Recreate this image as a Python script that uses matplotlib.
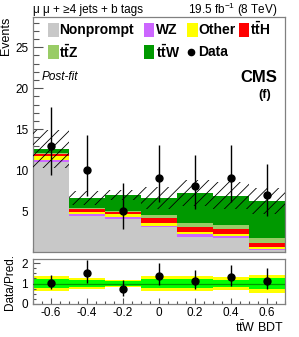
#!/usr/bin/env python3

"""
Post-fit ttW BDT distribution in the mu mu + >=4 jets + b tags category,
stacked backgrounds with data and a Data/Pred. ratio panel.
"""

import numpy as np
import matplotlib
matplotlib.use('Agg')
from matplotlib import pyplot as plt
from matplotlib.patches import Rectangle

plt.rcParams['font.family'] = ['Liberation Sans', 'DejaVu Sans']
plt.rcParams['mathtext.fontset'] = 'custom'
plt.rcParams['mathtext.rm'] = 'Liberation Sans'
plt.rcParams['mathtext.it'] = 'Liberation Sans:italic'
plt.rcParams['mathtext.bf'] = 'Liberation Sans:bold'
plt.rcParams['axes.unicode_minus'] = False
plt.rcParams['hatch.linewidth'] = 0.6

# binning of the BDT output
bin_edges = [-0.7, -0.5, -0.3, -0.1, 0.1, 0.3, 0.5, 0.7]

# post-fit yields per bin, stacked bottom -> top
nonprompt = [11.0, 4.4, 4.05, 3.0, 1.85, 1.75, 0.25]
wz = [0.2, 0.2, 0.25, 0.2, 0.3, 0.2, 0.15]
other = [0.5, 0.3, 0.3, 0.3, 0.35, 0.3, 0.25]
tth = [0.3, 0.3, 0.3, 0.6, 0.6, 0.6, 0.5]
ttz = [0.1, 0.15, 0.1, 0.4, 0.4, 0.5, 0.5]
ttw = [0.5, 1.25, 2.0, 2.1, 3.7, 3.55, 4.6]

# upper edge of the hatched total uncertainty
unc_top = [14.9, 7.5, 7.6, 7.9, 8.8, 8.5, 7.8]

# observed data with asymmetric errors
data = [13, 10, 5, 9, 8, 9, 7]
data_lo = [3.6, 3.1, 2.2, 2.9, 2.8, 2.9, 2.6]
data_hi = [4.7, 4.3, 3.4, 4.1, 3.9, 4.1, 3.8]

# ratio panel
ratio = [1.03, 1.52, 0.71, 1.37, 1.11, 1.31, 1.13]
band_1s = [0.21, 0.16, 0.12, 0.23, 0.21, 0.19, 0.27]
band_2s = [0.37, 0.26, 0.19, 0.37, 0.37, 0.31, 0.44]

samples = [
    ('Nonprompt', nonprompt, '#c8c8c8'),
    ('WZ', wz, '#cc66ff'),
    ('Other', other, '#ffff00'),
    (r'$\mathbf{t\bar{t}H}$', tth, '#ff0000'),
    (r'$\mathbf{t\bar{t}Z}$', ttz, '#99cc66'),
    (r'$\mathbf{t\bar{t}W}$', ttw, '#009900'),
]

FRAME = '#808080'


def style_axis(ax):
    for sp in ax.spines.values():
        sp.set_color(FRAME)
        sp.set_linewidth(0.9)
    ax.tick_params(which='both', direction='in', colors='#555555',
                   labelcolor='black', labelsize=8.5, width=0.8)
    ax.tick_params(which='major', length=6)
    ax.tick_params(which='minor', length=3)


def main():
    edges = np.array(bin_edges)
    centers = 0.5*(edges[1:] + edges[:-1])

    fig = plt.figure(figsize=(2.99, 3.37), dpi=100)
    ax = fig.add_axes([33/299, 85/337, 252/299, 235/337])
    rax = fig.add_axes([33/299, 33/337, 252/299, 45/337])

    # Stack
    bottom = np.zeros(len(centers))
    for name, vals, col in samples:
        top = bottom + np.array(vals)
        ax.stairs(top, edges, baseline=bottom, fill=True, color=col,
                  linewidth=0, zorder=2)
        bottom = top
    total = bottom

    # Uncertainty hatch
    up = np.array(unc_top)
    down = total - (up - total)
    ax.stairs(up, edges, baseline=down, fill=True, facecolor='none',
              edgecolor='black', hatch='///', linewidth=0, zorder=3)

    # Data
    ax.errorbar(centers, data, yerr=[data_lo, data_hi], fmt='o', color='black',
                ms=5, elinewidth=1.0, capsize=0, zorder=5)

    ax.set_xlim(-0.7, 0.7)
    ax.set_ylim(0, 28.7)
    ax.set_yticks([5, 10, 15, 20, 25])
    ax.set_yticks(np.arange(1, 29), minor=True)
    ax.set_xticks(np.arange(-0.6, 0.61, 0.2))
    ax.set_xticks(np.arange(-0.7, 0.71, 0.05), minor=True)
    ax.tick_params(axis='x', labelbottom=False)
    style_axis(ax)
    ax.tick_params(axis='y', which='major', length=7)
    ax.tick_params(axis='y', which='minor', length=4)
    ax.set_ylabel('Events', fontsize=9, loc='top', labelpad=2)

    # Legend, drawn by hand in axes coordinates
    sw, sh = 0.042, 0.060
    rows = [0.945, 0.851]
    entries = [
        (0, 0.0595, 0.105),
        (1, 0.440, 0.490),
        (2, 0.611, 0.657),
        (3, 0.817, 0.863),
        (4, 0.0595, 0.105),
        (5, 0.440, 0.488),
    ]
    for idx, sx, tx in entries:
        name, _, col = samples[idx]
        ry = rows[0] if idx < 4 else rows[1]
        ax.add_patch(Rectangle((sx, ry - sh/2), sw, sh, transform=ax.transAxes,
                               facecolor=col, edgecolor='none', zorder=6))
        ax.text(tx, ry, name, transform=ax.transAxes, fontsize=10,
                fontweight='bold', va='center', ha='left', zorder=6)
    ax.plot([0.627], [rows[1]], 'o', color='black', ms=4.5,
            transform=ax.transAxes, zorder=6)
    ax.text(0.655, rows[1], 'Data', transform=ax.transAxes, fontsize=10,
            fontweight='bold', va='center', ha='left', zorder=6)

    ax.text(0.036, 0.743, 'Post-fit', transform=ax.transAxes, fontsize=8.5,
            style='italic', va='center', ha='left')
    ax.text(0.968, 0.743, 'CMS', transform=ax.transAxes, fontsize=12,
            fontweight='bold', va='center', ha='right')
    ax.text(0.921, 0.668, '(f)', transform=ax.transAxes, fontsize=9,
            fontweight='bold', va='center', ha='center')

    fig.text(33/299, 0.970, '\u03bc \u03bc + \u22654 jets + b tags',
             fontsize=8.5, ha='left', va='center')
    fig.text(278/299, 0.970, r'19.5 fb$^{-1}$ (8 TeV)', fontsize=8.5,
             ha='right', va='center')

    # Ratio panel
    lo2 = 1 - np.array(band_2s)
    hi2 = 1 + np.array(band_2s)
    lo1 = 1 - np.array(band_1s)
    hi1 = 1 + np.array(band_1s)
    rax.stairs(hi2, edges, baseline=lo2, fill=True, color='#ffff00',
               linewidth=0, zorder=1)
    rax.stairs(hi1, edges, baseline=lo1, fill=True, color='#00ff00',
               linewidth=0, zorder=2)
    rax.axhline(1.0, color='#009900', lw=0.9, zorder=3)

    r = np.array(ratio)
    d = np.array(data, dtype=float)
    r_lo = r*np.array(data_lo)/d
    r_hi = r*np.array(data_hi)/d
    rax.errorbar(centers, r, yerr=[r_lo, r_hi], fmt='o', color='black',
                 ms=5, elinewidth=1.0, capsize=0, zorder=5)

    rax.set_xlim(-0.7, 0.7)
    rax.set_ylim(0, 2.2)
    rax.set_yticks([0, 1, 2])
    rax.set_yticks(np.arange(0, 2.21, 0.25), minor=True)
    rax.set_xticks(np.arange(-0.6, 0.61, 0.2))
    rax.set_xticks(np.arange(-0.7, 0.71, 0.05), minor=True)
    rax.set_xticklabels(['-0.6', '-0.4', '-0.2', '0', '0.2', '0.4', '0.6'])
    style_axis(rax)
    rax.tick_params(axis='x', which='major', length=4, pad=2)
    rax.tick_params(axis='x', which='minor', length=2)
    rax.tick_params(axis='y', which='major', length=5)
    rax.tick_params(axis='y', which='minor', length=2.5)
    rax.set_ylabel('Data/Pred.', fontsize=8.5, labelpad=4)

    fig.text(284/299, 1 - 327/337, r'$\mathrm{t\bar{t}W}$ BDT', fontsize=9,
             ha='right', va='center')

    fig.align_ylabels([ax, rax])
    fig.savefig('out.png', dpi=100)


if __name__ == '__main__':
    main()
